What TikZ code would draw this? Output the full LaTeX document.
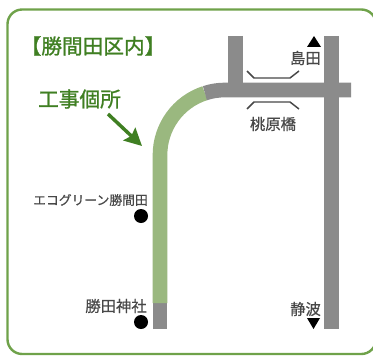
\documentclass[tikz,border=0pt]{standalone}
\usepackage{fontspec}
\usetikzlibrary{arrows.meta}
\setmainfont{Noto Sans CJK JP}
\newfontfamily\lblfont[FakeBold=0.5]{Noto Sans CJK JP}
\newfontfamily\ttlfont[FakeBold=1.2]{Noto Sans CJK JP}
\definecolor{frameG}{HTML}{6FA24A}
\definecolor{roadG}{HTML}{9AB87F}
\definecolor{roadK}{HTML}{8B8B8B}
\definecolor{textG}{HTML}{3F7F22}
\definecolor{textK}{HTML}{484848}
\tikzset{
  road/.style={line width=11pt,line cap=butt,line join=miter},
  lbl/.style={inner sep=0pt,text=textK,font=\lblfont\fontsize{#1}{#1}\selectfont},
  lbl/.default=11,
  ttl/.style={inner sep=0pt,text=textG,font=\ttlfont\fontsize{#1}{#1}\selectfont},
  spot/.style={circle,fill=black,minimum size=10.5pt,inner sep=0pt},
  tri/.style={fill=black},
  bridge/.style={draw=textK,line width=1.1pt}
}
\begin{document}
\begin{tikzpicture}[x=0.75pt,y=-0.75pt]
\useasboundingbox (0,0) rectangle (373,356);
\fill[white] (0,0) rectangle (373,356);
\draw[frameG,line width=1.8pt,rounded corners=11pt] (7.5,9.5) rectangle (376,354);
% roads
\coordinate (sw) at (160,329);
\coordinate (gs) at (160,303);
\coordinate (cs) at (160,155);
\draw[road,roadK] (sw) -- (gs);
\draw[road,roadG] (gs) -- (cs) arc[start angle=180,end angle=252,radius=65] coordinate (gb);
\draw[road,roadK] (gb) arc[start angle=252,end angle=270,radius=65] -- (351,90);
\draw[road,roadK] (235.5,36) -- (235.5,90);
\draw[road,roadK] (331.5,36) -- (331.5,329);
% bridge
\draw[bridge] (247,71) -- (254,78) -- (290,78) -- (299,71);
\draw[bridge] (247,109) -- (254,102) -- (290,102) -- (299,109);
% triangles
\fill[tri] (307,47) -- (314,36) -- (321,47) -- cycle;
\fill[tri] (307,318) -- (320,318) -- (313.5,329) -- cycle;
% spots
\node[spot] (d1) at (141,216) {};
\node[spot] (d2) at (141,322) {};
% labels
\node[ttl=15.5,anchor=center] (t1) at (93,46) {【勝間田区内】};
\node[ttl=15.5,anchor=center] (t2) at (79.5,99) {工事個所};
\coordinate (a1) at (108,114);
\coordinate (a2) at (142,146);
\draw[textG,line width=2.6pt,-{Stealth[length=13pt,width=13pt,inset=2pt]}] (a1) -- (a2);
\node[lbl=9.6,anchor=center] (l1) at (90.5,200) {エコグリーン勝間田};
\node[lbl=11.5,anchor=center] (l2) at (116,306) {勝田神社};
\node[lbl=11.5,anchor=center] (l3) at (305.5,58) {島田};
\node[lbl=11.5,anchor=center] (l4) at (273,124) {桃原橋};
\node[lbl=11.5,anchor=center] (l5) at (305.5,309) {静波};
\end{tikzpicture}
\end{document}
